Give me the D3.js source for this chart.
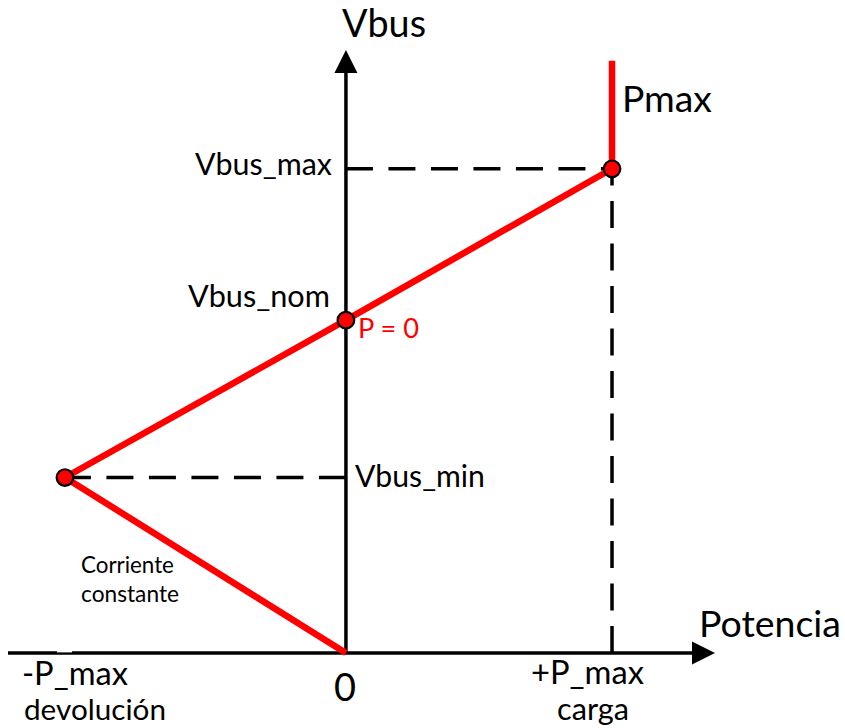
<!DOCTYPE html>
<html>
<head>
<meta charset="utf-8">
<script src="https://cdn.jsdelivr.net/npm/d3@7"></script>
<style>
  html, body { margin: 0; padding: 0; background: #fff; }
  svg { display: block; }
  text { font-family: Lato, "Noto Sans", sans-serif; }
</style>
</head>
<body>
<svg id="chart" width="845" height="728"></svg>
<script>
// ---- data ----
const axisP = [-127, 138.7];            // extent of the power axis
const axisV = [0, 100];                 // extent of the Vbus axis
const curveP = [0, -105.6, 0, 100, 100];  // characteristic (red) line
const curveV = [0, 29.1, 55.2, 80.3, 98.2];
const markerP = [-105.6, 0, 100];
const markerV = [29.1, 55.2, 80.3];
const vTickLabels = ["Vbus_min", "Vbus_nom", "Vbus_max"];
const pTickLabels = ["-P_max", "0", "+P_max"];
const pTickSub = ["devolución", "", "carga"];

const svg = d3.select("#chart");
const x = d3.scaleLinear().domain(axisP).range([8, 715]);
const y = d3.scaleLinear().domain(axisV).range([653, 50]);

const g = svg.append("g");

// dashed guide lines (drawn starting from the axes)
const dash = "27,15.5";
g.append("line").attr("x1", x(0)).attr("y1", y(markerV[2])).attr("x2", x(markerP[2])).attr("y2", y(markerV[2]))
  .attr("stroke", "#000").attr("stroke-width", 3.5).attr("stroke-dasharray", dash);
g.append("line").attr("x1", x(0)).attr("y1", y(markerV[0])).attr("x2", x(markerP[0])).attr("y2", y(markerV[0]))
  .attr("stroke", "#000").attr("stroke-width", 3.5).attr("stroke-dasharray", dash);
g.append("line").attr("x1", x(markerP[2])).attr("y1", y(0)).attr("x2", x(markerP[2])).attr("y2", y(markerV[2]))
  .attr("stroke", "#000").attr("stroke-width", 3.5).attr("stroke-dasharray", dash);

// axes
g.append("line").attr("x1", x(axisP[0])).attr("y1", y(0)).attr("x2", x(axisP[1]) - 18).attr("y2", y(0))
  .attr("stroke", "#000").attr("stroke-width", 3.5);
g.append("line").attr("x1", x(0)).attr("y1", y(0)).attr("x2", x(0)).attr("y2", y(axisV[1]) + 18)
  .attr("stroke", "#000").attr("stroke-width", 3.5);
// arrow heads
const tx = x(axisP[1]), ty = y(0);
g.append("path").attr("d", `M${tx},${ty} L${tx - 23},${ty - 11.5} L${tx - 23},${ty + 11.5} Z`).attr("fill", "#000");
const ux = x(0), uy = y(axisV[1]);
g.append("path").attr("d", `M${ux},${uy} L${ux - 11.5},${uy + 23} L${ux + 11.5},${uy + 23} Z`).attr("fill", "#000");
// small white notch on the power axis
g.append("rect").attr("x", 57).attr("y", y(0) - 2.2).attr("width", 15).attr("height", 1.6).attr("fill", "#fff");

// red characteristic
const pts = curveP.map((p, i) => [x(p), y(curveV[i])]);
g.append("path").attr("d", d3.line()(pts)).attr("fill", "none")
  .attr("stroke", "#ff0000").attr("stroke-width", 6.5).attr("stroke-linejoin", "round");

// markers
g.selectAll("circle.m").data(markerP).join("circle").attr("class", "m")
  .attr("cx", d => x(d)).attr("cy", (d, i) => y(markerV[i])).attr("r", 8.3)
  .attr("fill", "#ff0000").attr("stroke", "#000").attr("stroke-width", 2.2);

// text helper: fit to a target width
function label(txt, xx, yy, w, color, anchor) {
  const t = g.append("text").attr("x", xx).attr("y", yy).attr("font-size", 30)
    .attr("fill", color || "#000").attr("text-anchor", anchor || "start").text(txt);
  const len = t.node().getComputedTextLength();
  t.attr("font-size", 30 * w / len);
  return t;
}

label("Vbus", 342, 37, 84);
label("Pmax", 622, 112, 90);
label("Potencia", 699, 637, 142);
label(vTickLabels[2], 195, y(markerV[2]) + 6, 137);
label(vTickLabels[1], 188, y(markerV[1]) - 13.5, 142);
label("P = 0", 358, y(markerV[1]) + 18, 61, "#ff0000");
label(vTickLabels[0], 355, y(markerV[0]) + 9, 130);
label("Corriente", 81, 573, 93);
label("constante", 81, 602, 98);
label(pTickLabels[0], 22, 685, 106);
label(pTickSub[0], 24, 720, 142);
label(pTickLabels[1], 334, 701, 22);
label(pTickLabels[2], 531, 684, 113);
label(pTickSub[2], 557, 720, 72);
</script>
</body>
</html>
